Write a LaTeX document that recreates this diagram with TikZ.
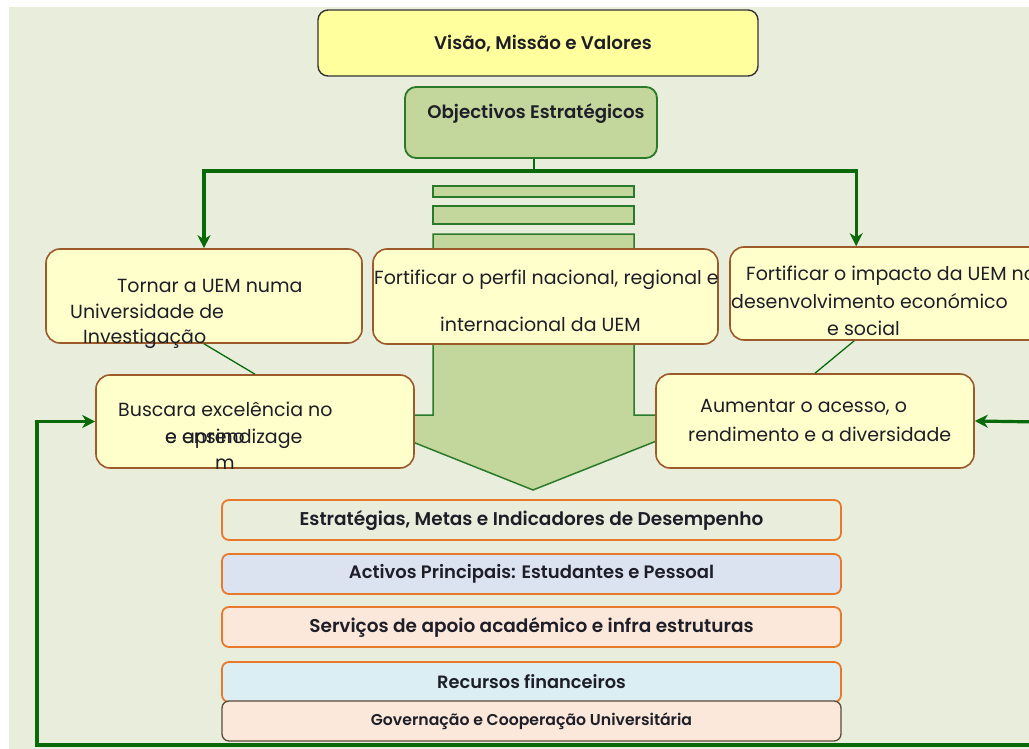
\documentclass[tikz,border=0pt]{standalone}
\usepackage{fontspec}
\setmainfont{Poppins}
\newfontfamily\semibf{Poppins SemiBold}
\usetikzlibrary{arrows.meta,calc}
\definecolor{bgc}{HTML}{E9EEDC}
\definecolor{topfill}{HTML}{FFFF9E}
\definecolor{objfill}{HTML}{C3D69B}
\definecolor{objline}{HTML}{2A7A2A}
\definecolor{boxfill}{HTML}{FFFFCC}
\definecolor{boxline}{HTML}{9C5A2A}
\definecolor{arrc}{HTML}{0A6A0A}
\definecolor{orangeln}{HTML}{E8782A}
\definecolor{bluefill}{HTML}{DCE3F0}
\definecolor{peachfill}{HTML}{FCE8DA}
\definecolor{cyanfill}{HTML}{DAEEF3}
\definecolor{darkln}{HTML}{5C4A3A}
\definecolor{txtc}{HTML}{1E1E28}
\begin{document}
\begin{tikzpicture}[x=1pt,y=-1pt,
  goalbox/.style={draw=boxline, line width=1.6pt, fill=boxfill, rounded corners=14pt, inner sep=0pt},
  basebox/.style={draw=orangeln, line width=1.8pt, rounded corners=7pt, inner sep=0pt,
    minimum width=619pt, minimum height=40pt, text=txtc},
  txt/.style={anchor=base west, inner sep=0pt, text=txtc, font=\fontsize{19}{21}\selectfont},
  feed/.style={draw=arrc, line width=3.2pt},
  feedarr/.style={feed, -{Stealth[length=13pt,width=13pt,inset=4pt]}},
  thinln/.style={draw=arrc, line width=1.3pt}
]
\useasboundingbox (0,0) rectangle (1029,749);
\fill[white] (0,0) rectangle (1029,749);
\fill[bgc] (9,7) rectangle (1029,749);

% top boxes
\node[draw=black!80, line width=1.4pt, fill=topfill, rounded corners=10pt,
  minimum width=440pt, minimum height=66pt, inner sep=0pt] (top) at (538,43) {};
\node[font=\semibf\fontsize{18.3}{20}\selectfont, text=txtc, inner sep=0pt] (toptxt) at (543,44) {Visão, Missão e Valores};
\node[draw=objline, line width=1.8pt, fill=objfill, rounded corners=11pt,
  minimum width=252pt, minimum height=71pt, inner sep=0pt] (obj) at (531,122.5) {};
\node[font=\semibf\fontsize{18.2}{20}\selectfont, text=txtc, inner sep=0pt] (objtxt) at (536,114) {Objectivos Estratégicos};

% bars and big arrow
\draw[objline, line width=1.5pt, fill=objfill] (433,186) rectangle (634,197);
\draw[objline, line width=1.5pt, fill=objfill] (433,206) rectangle (634,224);
\draw[objline, line width=1.5pt, fill=objfill] (433,234) -- (634,234) -- (634,415) -- (722,415)
  -- (533,490) -- (345,415) -- (433,415) -- cycle;

% objective boxes row 1
\node[goalbox, minimum width=316pt, minimum height=94pt] (g1) at (204,296) {};
\node[goalbox, minimum width=345pt, minimum height=95pt] (g2) at (545.5,296.5) {};
\node[goalbox, minimum width=330pt, minimum height=93pt] (g3) at (895,293.5) {};
% row 2
\node[goalbox, minimum width=318pt, minimum height=93pt] (g4) at (255,421.5) {};
\node[goalbox, minimum width=318pt, minimum height=94pt] (g5) at (815,421) {};

% texts
\node[txt] (t1a) at (117,292) {Tornar a UEM numa};
\node[txt] (t1b) at (70,318) {Universidade de};
\node[txt] (t1c) at (83,343) {Investigação};
\node[txt] (t2a) at (374,284) {Fortificar o perfil nacional, regional e};
\node[txt] (t2b) at (440,331) {internacional da UEM};
\node[txt] (t3a) at (746,280) {Fortificar o impacto da UEM no};
\node[txt] (t3b) at (731,308) {desenvolvimento económico};
\node[txt] (t3c) at (827,335) {e social};
\node[txt] (t4a) at (118,416) {Buscara excelência no};
\node[txt] (t4b) at (165,443) {e aprendizage};
\node[txt] (t4c) at (165,443) {e ensino};
\node[txt] (t4d) at (215,469) {m};
\node[txt] (t5a) at (700,412) {Aumentar o acesso, o};
\node[txt] (t5b) at (688,441) {rendimento e a diversidade};

% connectors from objectives
\coordinate (jn) at (534,171);
\draw[thinln] (jn |- obj.south) -- (jn);
\draw[feedarr] (jn) -| (g1.north);
\draw[feedarr] (jn) -| ([xshift=127pt]g3.north west);
\draw[thinln] (g1.south) -- (g4.north);
\draw[thinln] ([xshift=125pt]g3.south west) -- (g5.north);

% base boxes
\node[basebox, fill=bgc, font=\semibf\fontsize{18.5}{20}\selectfont] (b1) at (531.5,520) {Estratégias, Metas e Indicadores de Desempenho};
\node[basebox, fill=bluefill, font=\semibf\fontsize{18}{20}\selectfont] (b2) at (531.5,574) {Activos Principais: Estudantes e Pessoal};
\node[basebox, fill=peachfill, font=\semibf\fontsize{18.5}{20}\selectfont] (b3) at (531.5,627) {Serviços de apoio académico e infra estruturas};
\node[basebox, fill=cyanfill, font=\semibf\fontsize{17.8}{20}\selectfont] (b4) at (531.5,682) {Recursos financeiros};
\node[basebox, fill=peachfill, draw=darkln, line width=1.3pt, font=\semibf\fontsize{15.7}{18}\selectfont] (b5) at (531.5,721) {Governação e Cooperação Universitária};

% feedback loop
\coordinate (loopR) at (1040,745);
\coordinate (inR) at (1040,422);
\draw[feedarr] (loopR) -- (37,745) |- (g4.west);
\draw[feedarr] (inR) -- (g5.east);
\end{tikzpicture}
\end{document}
